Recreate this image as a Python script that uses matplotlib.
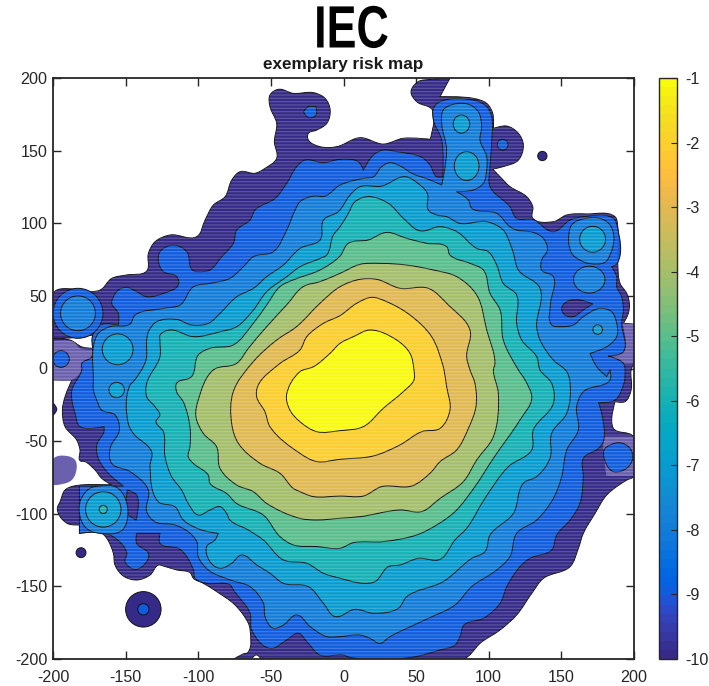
import math
import matplotlib
matplotlib.use("Agg")
import matplotlib.pyplot as plt
from matplotlib.colors import ListedColormap, Normalize
from matplotlib.cm import ScalarMappable
from matplotlib.patches import Ellipse, PathPatch
from matplotlib.path import Path
from matplotlib.patheffects import AbstractPathEffect
from matplotlib.transforms import Affine2D

plt.rcParams['font.family'] = ['Liberation Sans', 'DejaVu Sans']
plt.rcParams['hatch.linewidth'] = 0.9
plt.rcParams['axes.unicode_minus'] = False

# parula, 64 steps
parula_colors = [
    (.2081, .1663, .5292), (.2116, .1898, .5777), (.2123, .2138, .6270), (.2081, .2386, .6771),
    (.1959, .2645, .7279), (.1707, .2919, .7792), (.1253, .3242, .8303), (.0591, .3598, .8683),
    (.0117, .3875, .8820), (.0060, .4086, .8828), (.0165, .4266, .8786), (.0329, .4430, .8720),
    (.0498, .4586, .8641), (.0629, .4737, .8554), (.0723, .4887, .8467), (.0779, .5040, .8384),
    (.0793, .5200, .8312), (.0749, .5375, .8263), (.0641, .5570, .8240), (.0488, .5772, .8228),
    (.0343, .5966, .8199), (.0265, .6137, .8135), (.0239, .6287, .8038), (.0231, .6418, .7913),
    (.0228, .6535, .7768), (.0267, .6642, .7607), (.0384, .6743, .7436), (.0590, .6838, .7254),
    (.0843, .6928, .7062), (.1133, .7015, .6859), (.1453, .7098, .6646), (.1801, .7177, .6424),
    (.2178, .7250, .6193), (.2586, .7317, .5954), (.3022, .7376, .5712), (.3482, .7424, .5473),
    (.3953, .7459, .5244), (.4420, .7481, .5033), (.4871, .7491, .4840), (.5300, .7491, .4661),
    (.5709, .7485, .4494), (.6099, .7473, .4337), (.6473, .7456, .4188), (.6834, .7435, .4044),
    (.7184, .7411, .3905), (.7525, .7384, .3768), (.7858, .7356, .3633), (.8185, .7327, .3498),
    (.8507, .7299, .3360), (.8824, .7274, .3217), (.9139, .7258, .3063), (.9450, .7261, .2886),
    (.9739, .7314, .2666), (.9938, .7455, .2403), (.9990, .7653, .2164), (.9955, .7861, .1967),
    (.9880, .8066, .1794), (.9789, .8271, .1633), (.9697, .8481, .1475), (.9626, .8705, .1309),
    (.9589, .8949, .1132), (.9598, .9218, .0948), (.9661, .9514, .0755), (.9763, .9831, .0538),
]

# contour lines, (x, y) in map units
contour_m10 = [
    (-199.7, 51.7), (-197.4, 54), (-167.6, 54), (-159.6, 62), (-149.2, 64.4), (-135.5, 67.1), (-134.3, 79.3),
    (-129.7, 87.3), (-119.4, 91.9), (-101, 90.8), (-95.3, 102.2), (-89.6, 112.5), (-81.5, 118.3), (-76.9, 129.8),
    (-71.2, 135.5), (-60.9, 134.4), (-54, 137.8), (-46, 144.7), (-47.6, 156.2), (-46, 168.8), (-50.6, 180.3),
    (-50.6, 188.3), (-44.8, 192.2), (-34.5, 189.4), (-20.7, 189.9), (-12.7, 186), (-9.2, 178), (-11.5, 168.8),
    (-18.4, 164.2), (-24.2, 161.9), (-24.2, 157.3), (-16.1, 152.7), (-4.7, 152.7), (11.4, 158.9), (27.4, 154.5),
    (41.2, 158.5), (59.6, 157.8), (61.2, 178), (50.4, 183.7), (46.5, 190.6), (51.5, 197.5), (59.6, 199),
    (73.3, 200), (66.4, 187.1), (89.4, 186), (98.6, 182.5), (102.7, 175.7), (103.2, 165.3), (112.4, 166.9),
    (120.4, 161.9), (123.8, 153.9), (120.4, 143.5), (110, 139), (102.7, 137.3), (107.8, 132), (114.6, 125.2),
    (126.1, 118.3), (130.3, 111.4), (130.3, 103.4), (144.5, 101.1), (153.7, 105.7), (167.4, 106.4), (186.9, 104.5),
    (188.8, 97.6), (188.8, 72.4), (190.4, 58.6), (195, 51.7), (196.8, 44.9), (196.1, 38), (192.7, 31.1),
    (199.6, 30.6), (199.6, 3.5), (198, -1), (198, -14.8), (193.8, -22.8), (187, -22.8), (185.8, -41.2),
    (199.6, -46.9), (199.6, -74.5), (195, -76.8), (181.2, -87.1), (173.2, -99.7), (165.1, -113.5), (161.7, -123.8),
    (156, -136.4), (137.6, -144.5), (129.6, -154.8), (119.2, -169.7), (107.8, -180), (94, -189.2), (86, -198),
    (82.5, -200), (-56, -200), (-60, -197.2), (-64, -200), (-75.4, -200), (-69, -196.5), (-65.8, -195.5),
    (-64.3, -180), (-65.5, -175.4), (-74.7, -162.8), (-87.3, -153.6), (-96.5, -147.9), (-103.3, -144.5),
    (-105.6, -140.6), (-114.8, -138.7), (-124, -136), (-127.4, -135.3), (-133.2, -142.2), (-142.4, -145.6),
    (-151.5, -142.9), (-157.3, -135.3), (-158.4, -127.3), (-163, -116.9), (-166.5, -113.5), (-181.8, -113.5),
    (-181.8, -107.7), (-189.4, -107), (-195.1, -102), (-197, -96.3), (-195.1, -91.7), (-191.7, -83.7),
    (-186, -81), (-159.6, -80.2), (-166.5, -75.6), (-171, -69.9), (-177.9, -64.1), (-181.4, -63.4), (-181.4, -56.1),
    (-183.7, -49.2), (-191.7, -40), (-193.5, -28.5), (-191.7, -19.4), (-187, -7.9), (-199.7, -7.9), (-200, 20.5),
    (-188, 19.5), (-180, 14.8), (-172.7, 13.9), (-172.7, 23), (-188, 21), (-200, 21),
]
contour_m9 = [
    (-172.9, 21.9), (-167.6, 29.9), (-155, 29.9), (-155, 38), (-159.6, 44.9), (-158.4, 49.4), (-155, 54),
    (-149.2, 55.9), (-142.4, 52.9), (-135.5, 49.4), (-124, 51.7), (-113.7, 57.5), (-114.8, 63.2), (-124, 66.7),
    (-127.4, 73.5), (-126.3, 80.4), (-117.1, 85), (-107.9, 80.4), (-104, 67.8), (-96.5, 66.7), (-91.9, 67.8),
    (-83.8, 77), (-75.8, 86.2), (-73.5, 95.3), (-64.3, 102.2), (-60.9, 109.1), (-47.1, 117.1), (-39.1, 127.5),
    (-32.2, 139), (-26.5, 143.5), (-13.8, 141.7), (-2.4, 144), (10.2, 142.4), (13.7, 136.7), (20.6, 147),
    (27.4, 150.4), (36.6, 149.3), (53.8, 145.4), (59.6, 140.1), (64.2, 132), (68.3, 132), (67.6, 157.3),
    (61.9, 171.1), (61.9, 179.1), (66.5, 183.7), (89.4, 184.8), (98.6, 180.3), (102, 173.4), (102, 155),
    (100.9, 139), (100.9, 125.2), (114.6, 111.4), (119.2, 103.4), (130.3, 102.7), (144.5, 94.2), (156, 102.2),
    (165.1, 104.5), (185.8, 103.4), (188.5, 97.6), (188.5, 72.4), (184.6, 70.1), (188.1, 63.2), (188.1, 56.3),
    (191.5, 49.4), (192.7, 40.3), (191.5, 31.1), (192.7, 11.6), (182.3, 8.6), (192.7, 3.5), (193.8, -5.6),
    (193.1, -10.2), (187, -21.7), (175.5, -23.5), (177.8, -30.9), (178.9, -50.4), (175.5, -55), (165.1, -61.9),
    (165.1, -74.5), (162.8, -92.8), (156, -104.3), (146.8, -114.6), (143.3, -124.9), (128.4, -130.7),
    (121.5, -136.4), (112.4, -150.2), (107.8, -161.7), (96.3, -172), (83, -176.6), (80.2, -184.6), (76.8, -190.4),
    (66.4, -193.8), (46.5, -198.9), (4.5, -198.9), (-0.1, -197.3), (-16.1, -197.3), (-25.3, -188), (-31, -182.3),
    (-39.1, -186.9), (-50.6, -192.7), (-63.2, -180), (-64.3, -168.6), (-75.8, -152.5), (-78.1, -149),
    (-94.2, -147.9), (-102.2, -144.5), (-103.3, -138.7), (-112.5, -124.5), (-126.3, -120.4), (-126.3, -113.5),
    (-142.4, -113.5), (-142.4, -120.4), (-134.3, -127.3), (-135.5, -133), (-143.5, -138.3), (-150.4, -133),
    (-149.2, -126.8), (-163, -113.5), (-181.8, -113.5), (-181.8, -80.9), (-151.5, -80.9), (-161.9, -72.2),
    (-168.8, -61.9), (-169.9, -52.7), (-164.9, -43.5), (-164.9, -40), (-181.4, -40), (-184.8, -30.9),
    (-187, -21.7), (-187, -14.8), (-180.2, -1), (-180.2, 3.5), (-173.3, 8.1),
]
contour_m8 = [
    (-134.4, -83.6), (-135.5, -98.6), (-129.8, -105.5), (-116, -107.7), (-106.9, -112.4), (-101, -119.2),
    (-100, -129.6), (-93.1, -138.7), (-78.1, -145.6), (-64.3, -150.2), (-55.1, -161.7), (-54, -170.9),
    (-48.3, -178.9), (-41.4, -176.6), (-32.2, -169.7), (-23, -177.7), (-11.5, -184.6), (-2.4, -184.6),
    (11.4, -183.5), (18.3, -185.8), (25.1, -189.2), (32, -184.6), (41.2, -180), (58.4, -172), (76.8, -162.8),
    (88.2, -150.2), (105.5, -138.7), (114.6, -129.5), (119.2, -113.5), (133, -104.3), (144.5, -89.4),
    (150.2, -74.5), (153.7, -56.1), (161.7, -42.3), (160.5, -26.3), (165.1, -16), (183.5, -7.9), (183.5, -1),
    (181.2, -5.6), (174.3, 1.2), (169.7, 10.4), (181.2, 15), (188.1, 21.9), (188.1, 31.1), (184.6, 39.1),
    (176.6, 41.4), (165.1, 35.7), (158.3, 30), (150.2, 28.8), (143.3, 30), (142.6, 44.9), (144.5, 63.2),
    (136.4, 67.8), (136.4, 74.7), (140.4, 81.6), (137.6, 89.6), (130.7, 93.7), (119.2, 95.3), (114.6, 97.6),
    (105.5, 106.8), (88.3, 110.3), (86, 116), (77.9, 121.7), (89.4, 122.9), (96.3, 127.5), (98.6, 136.7),
    (98.6, 145.8), (94, 157.3), (95.1, 166.5), (92.8, 176.8), (86, 181.9), (75.6, 181.9), (68.7, 178),
    (67.6, 168.8), (71, 150.4), (67.6, 126.3), (59.6, 129.8), (47, 134.4), (40, 138.9), (32, 141.7), (26.3, 139),
    (20.6, 132), (13.7, 130.9), (-2.4, 126.3), (-12.7, 118.7), (-20.7, 118.7), (-29.9, 114.9), (-33.3, 109.1),
    (-39.1, 95.3), (-48.3, 80.4), (-62, 77), (-68.9, 70.1), (-78.1, 62.1), (-91.9, 58.6), (-103.3, 56.3),
    (-112.5, 43.7), (-124, 41.4), (-143.5, 36.8), (-147, 30.6), (-160.7, 28.8), (-168.8, 24.2), (-172.2, 15),
    (-172.2, -8), (-172.2, -14.8), (-169.9, -21.7), (-166.5, -28.6), (-157.3, -32), (-154.3, -42.3), (-160.7, -55),
    (-159.6, -65.3), (-146.9, -71),
]
contour_m7 = [
    (-135.5, 19.6), (-136, 5.8), (-144.7, -9.1), (-147, -11.4), (-148.2, -37.8), (-144.7, -44.7), (-132.1, -57.3),
    (-133.2, -67.6), (-127.5, -91.7), (-116, -95.2), (-110.3, -104.3), (-97.7, -111.2), (-86.2, -113.5),
    (-88.5, -118.1), (-94.2, -122.6), (-91.9, -133), (-85, -137.6), (-77, -134.1), (-70.1, -128.4), (-59.7, -135.3),
    (-50.6, -141), (-41.4, -147.9), (-24.2, -150.2), (-13.8, -161.7), (-5.8, -170.8), (7.9, -165.8), (20.6, -168.5),
    (37.8, -165.1), (43.5, -157.1), (68.7, -146.7), (88.3, -130.7), (97.4, -126.1), (100.9, -114.6), (117, -99.7),
    (123.8, -79), (133, -74.4), (142.2, -61.8), (143.3, -44.6), (153.7, -30.8), (156, -10.2), (153.7, -2.2),
    (144.5, 5.8), (135.3, 19.6), (133, 28.8), (135.3, 55.2), (120.4, 67.8), (117, 79.3), (114.6, 86.2), (110, 95.3),
    (98.6, 101.1), (80.2, 99.9), (71, 104.5), (64.2, 105.7), (58.4, 109.1), (57.7, 120.6), (52.7, 126.3), (42.4, 132),
    (26.3, 125.6), (11.4, 125.2), (4.5, 119.4), (-3.5, 108), (-13.8, 102.2), (-16.1, 88.5), (-29.9, 82.7),
    (-41.4, 71.2), (-52.9, 63.2), (-62, 55.2), (-73.5, 49.4), (-85, 38), (-93, 31.1), (-104.5, 29.9), (-114.8, 33.8),
    (-128.6, 32.2), (-134.3, 25.3),
]
contour_m6 = [
    (-126.4, 19.6), (-126.4, 8.1), (-135.5, -10.2), (-135.5, -19.4), (-129.8, -26.3), (-126.4, -32), (-129.1, -36.6),
    (-124, -43.5), (-122.9, -60.7), (-118.3, -74.5), (-111.4, -83.7), (-106.9, -92.9), (-100, -100.9), (-91.9, -97.4),
    (-85, -95.2), (-80.5, -99.7), (-78.2, -104.3), (-65.5, -111.2), (-55.2, -118.1), (-41.4, -131.8), (-25.3, -134.1),
    (-13.8, -141), (-2.4, -144.4), (13.7, -147.9), (21.7, -146.7), (30.9, -136.4), (38.9, -135.3), (51.5, -130.7),
    (66.4, -131.4), (76.8, -118), (84.8, -110), (97.4, -89.4), (113.5, -67.6), (129.6, -56.1), (130.7, -42.3),
    (144.5, -24), (143.3, -10.2), (135.3, -1), (133, 8.1), (122.7, 19.6), (119.2, 31.1), (119.2, 50.6), (110, 58.6),
    (105.5, 71.2), (99.7, 80.4), (91.7, 82.7), (78, 94.2), (66.5, 97.6), (52.7, 94.7), (41.2, 103.4), (30.9, 113.7),
    (17.1, 118.3), (7.9, 114.8), (3.3, 106.8), (-2.4, 97.6), (-7, 91.9), (-11.6, 78.1), (-16.1, 75.8), (-29.9, 70.1),
    (-39.1, 63.2), (-52.9, 52.9), (-62, 40.3), (-73.5, 28.8), (-85, 25.3), (-103.3, 21.9), (-119.4, 26.5), (-126.3, 23),
]
contour_m5 = [
    (-75.9, 16.2), (-91.9, 13.9), (-100, 9.3), (-104.6, -5.6), (-114.9, -10.2), (-114.9, -16), (-110.3, -22.9),
    (-105.7, -40.1), (-105.7, -53.8), (-106.9, -60.7), (-103.4, -65.3), (-93.1, -73.4), (-91.9, -79.1), (-80.5, -86),
    (-73.6, -92.9), (-55.2, -100.9), (-43.7, -115.8), (-34.5, -121.5), (-18.4, -122.6), (-2.4, -123.8), (6.8, -119.9),
    (27.4, -119.2), (50.4, -114.6), (64.2, -107.7), (76.8, -98.5), (90.5, -81.3), (103.2, -61.8), (121.5, -35.4),
    (129.6, -20.5), (125, -7.9), (120.4, -1), (110, 19.6), (107.8, 40.3), (100.9, 51.7), (96.3, 67.8), (87.1, 72.4),
    (73.3, 78.1), (71, 83.9), (57.3, 86.2), (43.5, 89.6), (29.7, 93.7), (17.1, 88.5), (3.3, 86.2), (-2.4, 77.4),
    (-16.2, 67.8), (-34.6, 61), (-43.7, 56.4), (-52.9, 43.7), (-62.1, 31.1),
]
contour_m4 = [
    (-73.6, 3.5), (-89.6, -1), (-100, -21.7), (-101.6, -33.2), (-96.5, -44.7), (-87.4, -53.8), (-85, -68.8),
    (-73.6, -80.2), (-62.1, -84.8), (-52.9, -92.9), (-30, -103.2), (-18.4, -104.3), (-2.4, -103.1), (11.4, -102),
    (38.9, -97.4), (53.8, -98.5), (66.5, -89.4), (82.5, -77.9), (91.7, -63), (103.2, -46.9), (106.6, -17.1),
    (103.2, -1), (104.3, 3.5), (98.6, 26.5), (91.7, 50.6), (78, 63.2), (61.9, 67.8), (43.5, 71.2), (25.1, 72.4),
    (11.4, 71.7), (-2.4, 65.5), (-16.2, 59.8), (-27.7, 56.4), (-39.2, 43.7), (-52.9, 28.8), (-65.5, 13.9),
]
contour_m3 = [
    (-46, 19.6), (-62.1, 4.7), (-75.9, -16), (-77, -37.8), (-72.4, -51.5), (-57.5, -65.3), (-43.7, -72.2),
    (-34.6, -82.5), (-30, -84.8), (-20.7, -88.2), (-2.4, -87.8), (13.7, -87.8), (26.3, -81.3), (47, -80.9),
    (59.6, -72.1), (66.5, -64.1), (77.9, -56.1), (86, -41.2), (91.2, -26.2), (90.5, -10.2), (87.1, -1), (84.8, 8.1),
    (87.1, 26.5), (72.2, 43.7), (58.4, 55.2), (38.9, 55.2), (22.8, 61.4), (11.4, 61.4), (-2.4, 56.3), (-16.2, 44.9),
    (-32.3, 28.8),
]
contour_m2 = [
    (-30, 12.7), (-43.7, 3.5), (-58.7, -11.4), (-59.8, -19.4), (-54.1, -29.7), (-50.6, -40.1), (-30, -58.4),
    (-18.4, -64.1), (-2.4, -62.5), (20.6, -60.2), (38.9, -52.6), (53.8, -43.5), (66.5, -41.2), (73.3, -28.5),
    (71, -12.5), (69.2, -1), (68.7, 1.2), (60.7, 21.9), (45.8, 36.8), (29.7, 46), (19.4, 49), (9.1, 44.9),
    (-2.4, 36.4), (-13.8, 31.1), (-25.3, 21.9),
]
contour_m1 = [
    (-30, -2.2), (-39.2, -18.3), (-36.9, -28.6), (-30, -36.6), (-18.4, -43.5), (-2.4, -42.8), (13.7, -40),
    (27.4, -27.4), (41.2, -15.9), (48.5, -7.9), (48.5, -1), (45.8, 10.4), (36.6, 19.6), (18.3, 26.5), (6.8, 21.9),
    (-2.4, 17.3), (-9.3, 10.4), (-20.7, 1.2),
]

# separate pockets inside the main contours
pocket_right = [(150.2, 41.4), (153.7, 46), (162.8, 47.1), (171.6, 44.4), (165.1, 40.3), (158.3, 35.7), (152.5, 36.8)]
pocket_square = [(-148.8, -83.7), (-142.4, -87.1), (-142.8, -104.3), (-148.8, -99.7)]
rise_top = [(-27.6, 176.8), (-24.2, 180.3), (-18.9, 180.3), (-18.9, 174.5), (-24.2, 172.7)]
rise_right_edge = [(179.4, -56.1), (183.5, -52.7), (190.4, -51.1), (197.3, -55), (199.1, -61.9), (195, -68.7),
                   (185.8, -71), (181.2, -66.4)]
rise_square = [(-181, -90.6), (-174.6, -82.5), (-167.7, -80.9), (-156.2, -81.8), (-149.8, -90.6), (-148.9, -104.3),
               (-152.8, -111.7), (-167.7, -113.5), (-176.9, -110.1), (-181.4, -102)]
rise_tr_square = [(155.9, 96.5), (158.2, 100), (165.1, 103), (177.7, 103), (183.5, 98.8), (186.2, 89.7), (183.5, 78.2),
                  (180, 73.1), (168.5, 72.4), (162.8, 74.7), (157.1, 79.3)]

# round spots: centre, radii, level
spot_x = [-137.8, -180.7, 136.9, -182.8, -137.8, 109.6, -194.5, -182.8, 169.2, 81.2, 84.8, 171.5, 175, -155.5, -156.2, -165.4, -165.4]
spot_y = [-165.8, -126.8, 146.3, 38, -165.8, 154.1, 6.5, 38, 61.2, 168.3, 139.4, 89, 26.8, 13.2, -14.8, -97, -97]
spot_rx = [12.2, 3.4, 3.2, 17.2, 3.9, 3.7, 5.7, 12, 10.8, 5.7, 8.5, 8.9, 3.3, 10.6, 5.3, 12.2, 2.8]
spot_ry = [12.2, 3.4, 3.2, 17.2, 3.9, 3.7, 5.7, 12, 9.2, 6.2, 9.9, 8.9, 3.3, 10.6, 5.3, 12.2, 2.8]
spot_level = [-10, -10, -10, -9, -9, -9, -9, -8, -8, -7, -7, -7, -7, -7, -7, -7, -6]

# paler patches at the map edge
pale_left = [(-199.7, 19.1), (-186, 18.5), (-181.4, 13.9), (-172.9, 12.9), (-172.9, 8), (-180.2, 3.5), (-180.2, -1),
             (-187, -7.9), (-199.7, -7.9)]
pale_left_low = [(-199.3, -61.8), (-190.6, -60.2), (-184.8, -63), (-183.7, -68.7), (-187.1, -76.8), (-197.4, -80.2),
                 (-199.7, -80.2)]
pale_right = [(178.9, -46.9), (199.6, -46.9), (199.6, -74), (181, -74), (178.9, -56)]
pale_right_top = [(192, 31), (199.6, 30.6), (199.6, 3.5), (193, 3.5), (182.3, 8.6), (192.7, 11.6)]
sliver_left = [(-199.7, -24), (-197.4, -28.1), (-199.7, -32)]

levels = [-10, -9, -8, -7, -6, -5, -4, -3, -2, -1]
tick_x = [-200, -150, -100, -50, 0, 50, 100, 150, 200]
tick_y = [-200, -150, -100, -50, 0, 50, 100, 150, 200]

parula = ListedColormap(parula_colors)
norm = Normalize(-10, -1)
W, H = 709, 686
edge = '#111111'


class Squeeze(AbstractPathEffect):
    # narrow a text sideways around x = cx (display pixels)
    def __init__(self, sx, cx):
        super().__init__()
        self.sx, self.cx = sx, cx

    def draw_path(self, renderer, gc, tpath, affine, rgbFace=None):
        squeeze = Affine2D().translate(-self.cx, 0).scale(self.sx, 1).translate(self.cx, 0)
        renderer.draw_path(gc, tpath, affine + squeeze, rgbFace)


def smooth_path(points):
    # bezier through the read points, sharp turns stay corners
    n = len(points)
    tangents = []
    for i in range(n):
        x0, y0 = points[i - 1]
        x1, y1 = points[i]
        x2, y2 = points[(i + 1) % n]
        ax_, ay_ = x1 - x0, y1 - y0
        bx_, by_ = x2 - x1, y2 - y1
        la, lb = math.hypot(ax_, ay_) or 1, math.hypot(bx_, by_) or 1
        cos_turn = (ax_ * bx_ + ay_ * by_) / (la * lb)
        if cos_turn < 0.15:
            tangents.append((0, 0))
        else:
            tx, ty = ax_ / la + bx_ / lb, ay_ / la + by_ / lb
            lt = math.hypot(tx, ty) or 1
            tangents.append((tx / lt, ty / lt))
    verts = [points[0]]
    codes = [Path.MOVETO]
    for i in range(n):
        x1, y1 = points[i]
        x2, y2 = points[(i + 1) % n]
        seg = math.hypot(x2 - x1, y2 - y1) / 3
        t1, t2 = tangents[i], tangents[(i + 1) % n]
        verts += [(x1 + t1[0] * seg, y1 + t1[1] * seg), (x2 - t2[0] * seg, y2 - t2[1] * seg), (x2, y2)]
        codes += [Path.CURVE4] * 3
    return Path(verts, codes)


fig = plt.figure(figsize=(W / 100, H / 100), dpi=100)
ax = fig.add_axes([53 / W, 1 - 659 / H, 581 / W, 581 / H])
ax.set_xlim(-200, 200)
ax.set_ylim(-200, 200)


def band(points, level, z=2):
    ax.add_patch(PathPatch(smooth_path(points), facecolor=parula(norm(level)), edgecolor=edge,
                           linewidth=0.7, joinstyle='round', zorder=z))


def spots(level, z=2):
    for x, y, rx, ry, lv in zip(spot_x, spot_y, spot_rx, spot_ry, spot_level):
        if lv == level:
            ax.add_patch(Ellipse((x, y), 2 * rx, 2 * ry, facecolor=parula(norm(lv)), edgecolor=edge,
                                 linewidth=0.7, zorder=z))


band(contour_m10, -10)
spots(-10)
band(sliver_left, -10)
for patch_pts in [pale_left, pale_left_low, pale_right, pale_right_top]:
    ax.add_patch(PathPatch(smooth_path(patch_pts), facecolor='#6a60ae', edgecolor='none', zorder=2))
band(rise_top, -9)
band(rise_right_edge, -9)
band(contour_m9, -9)
spots(-9)
band(pocket_right, -10)
band(pocket_square, -10)
band(contour_m8, -8)
band(rise_square, -8)
band(rise_tr_square, -8)
spots(-8)
band(contour_m7, -7)
spots(-7)
band(contour_m6, -6)
spots(-6)
band(contour_m5, -5)
band(contour_m4, -4)
band(contour_m3, -3)
band(contour_m2, -2)
band(contour_m1, -1)

# the faint horizontal banding over the filled map
ax.add_patch(PathPatch(smooth_path(contour_m10), facecolor='none', edgecolor=(1, 1, 1, 0.2), hatch='-----',
                       linewidth=0, zorder=3))

ax.set_xticks(tick_x)
ax.set_yticks(tick_y)
ax.tick_params(direction='in', length=6, width=1, top=True, right=True, labelsize=11.6, color='#262626',
               labelcolor='#262626', pad=4)
ax.tick_params(axis='x', pad=8)
for side in ax.spines.values():
    side.set_linewidth(1.3)
    side.set_color('#262626')
    side.set_zorder(5)

title = fig.text(351.5 / W, 1 - 47.5 / H, 'IEC', fontsize=43, fontweight='bold', ha='center', va='baseline',
                 color='black')
title.set_path_effects([Squeeze(0.75, 351.5)])
fig.text(343 / W, 1 - 69 / H, 'exemplary risk map', fontsize=12.3, fontweight='bold', ha='center', va='baseline',
         color='#1a1a1a')

cax = fig.add_axes([659 / W, 1 - 659 / H, 18 / W, 581 / H])
cb = fig.colorbar(ScalarMappable(norm=norm, cmap=parula), cax=cax)
cb.set_ticks(levels)
cb.ax.tick_params(direction='in', length=4, width=0.8, labelsize=11.6, color='#262626', labelcolor='#262626', pad=6)
cb.outline.set_linewidth(1)
cb.outline.set_edgecolor('#262626')

fig.savefig('out.png', dpi=100)
